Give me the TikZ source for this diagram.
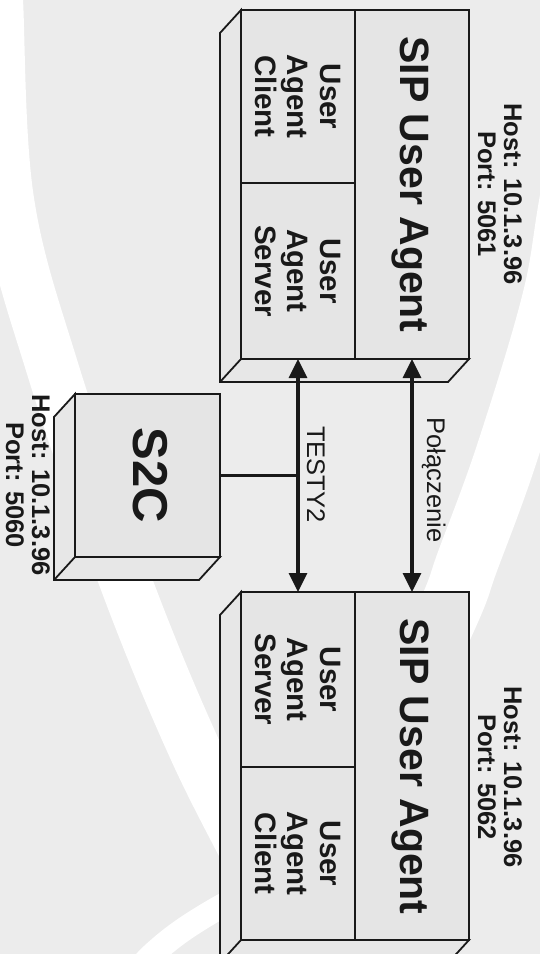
\documentclass[tikz,border=0pt]{standalone}
\usepackage{fontspec}
\setmainfont{Liberation Sans}
\usetikzlibrary{arrows.meta}
\definecolor{bg}{RGB}{236,236,236}
\definecolor{facefill}{RGB}{229,229,229}
\definecolor{sidefill}{RGB}{231,231,231}
\definecolor{ink}{RGB}{25,25,25}
\begin{document}
\begin{tikzpicture}[x=1pt,y=-1pt,
  facebox/.style={draw=ink, fill=facefill, line width=1.8pt, inner sep=0pt, outer sep=0pt, anchor=north west},
  sidebox/.style={draw=ink, fill=sidefill, line width=1.8pt, line join=miter},
  edgeline/.style={draw=ink, line width=1.8pt},
  title/.style={rotate=-90, anchor=base, text=ink, font=\fontsize{41}{41}\selectfont\bfseries},
  parttext/.style={rotate=-90, align=center, text=ink, font=\fontsize{29.5}{32.5}\selectfont\bfseries},
  hosttext/.style={rotate=-90, align=center, text=ink, inner sep=1pt, font=\fontsize{25.5}{26}\selectfont\bfseries},
  linktext/.style={rotate=-90, anchor=base, text=ink, font=\fontsize{25.5}{25.5}\selectfont},
  link/.style={draw=ink, line width=3.2pt, {Triangle[length=19pt,width=18pt]}-{Triangle[length=19pt,width=18pt]}},
  tie/.style={draw=ink, line width=3.2pt},
  band/.style={draw=white, line cap=butt}
]
\useasboundingbox (0,0) rectangle (540,954);
\fill[bg] (0,0) rectangle (540,954);
\begin{scope}
  \clip (0,0) rectangle (540,954);
  \draw[band, line width=52pt] plot[smooth, tension=0.6] coordinates {(-5,-40) (-3,0) (8,200) (53,370) (125,580) (195,750) (270,900) (310,1000)};
  \draw[band, line width=62pt] plot[smooth, tension=0.6] coordinates {(615,-20) (573,187) (553,300) (507,453) (468,560) (445,620) (360,800) (280,960)};
  \draw[band, line width=24pt] plot[smooth, tension=0.6] coordinates {(115,1000) (153,954) (213,911) (330,850)};
\end{scope}

% ---------- upper SIP User Agent (5061)
\node[facebox, minimum width=114pt, minimum height=173pt] (uac1) at (241,10) {};
\node[facebox, minimum width=114pt, minimum height=176pt] (uas1) at (241,183) {};
\node[facebox, minimum width=114pt, minimum height=349pt] (sip1) at (355,10) {};
\path[sidebox] (uac1.north west) -- ++(-21,23) -- ([shift={(-21,23)}]uas1.south west) -- ([shift={(-21,23)}]sip1.south east) -- (sip1.south east) -- (uas1.south west) -- cycle;
\draw[edgeline] (uas1.south west) -- ++(-21,23);
\node[facebox, minimum width=114pt, minimum height=173pt] at (241,10) {};
\node[facebox, minimum width=114pt, minimum height=176pt] at (241,183) {};
\node[facebox, minimum width=114pt, minimum height=349pt] at (355,10) {};
\node[title] (sipt1) at (400,184.5) {SIP User Agent};
\node[parttext] (uact1) at (uac1.center) {User\\Agent\\Client};
\node[parttext] (uast1) at (uas1.center) {User\\Agent\\Server};
\node[hosttext] (host1) at (500,194) {Host: 10.1.3.96\\Port: 5061};

% ---------- lower SIP User Agent (5062)
\node[facebox, minimum width=114pt, minimum height=175pt] (uas2) at (241,592) {};
\node[facebox, minimum width=114pt, minimum height=173pt] (uac2) at (241,767) {};
\node[facebox, minimum width=114pt, minimum height=348pt] (sip2) at (355,592) {};
\path[sidebox] (uas2.north west) -- ++(-21,23) -- ([shift={(-21,23)}]uac2.south west) -- ([shift={(-21,23)}]sip2.south east) -- (sip2.south east) -- (uac2.south west) -- cycle;
\draw[edgeline] (uac2.south west) -- ++(-21,23);
\node[facebox, minimum width=114pt, minimum height=175pt] at (241,592) {};
\node[facebox, minimum width=114pt, minimum height=173pt] at (241,767) {};
\node[facebox, minimum width=114pt, minimum height=348pt] at (355,592) {};
\node[title] (sipt2) at (400,766.5) {SIP User Agent};
\node[parttext] (uast2) at (uas2.center) {User\\Agent\\Server};
\node[parttext] (uact2) at (uac2.center) {User\\Agent\\Client};
\node[hosttext] (host2) at (500,777) {Host: 10.1.3.96\\Port: 5062};

% ---------- S2C
\node[facebox, minimum width=145pt, minimum height=163pt] (s2c) at (75,394) {};
\path[sidebox] (s2c.north west) -- ++(-21,23) -- ([shift={(-21,23)}]s2c.south west) -- ([shift={(-21,23)}]s2c.south east) -- (s2c.south east) -- (s2c.south west) -- cycle;
\draw[edgeline] (s2c.south west) -- ++(-21,23);
\node[facebox, minimum width=145pt, minimum height=163pt] at (75,394) {};
\node[rotate=-90, anchor=base, text=ink, font=\fontsize{49}{49}\selectfont\bfseries] (s2ct) at (133,475.5) {S2C};
\node[hosttext] (host3) at (28,485) {Host: 10.1.3.96\\Port: 5060};

% ---------- connectors
\draw[link] (sip1.south) -- (sip2.north);
\draw[link] (uas1.south) -- (uas2.north);
\coordinate (tj) at (s2c.east -| uas1.south);
\draw[tie] (s2c.east) -- (tj);
\node[linktext] (l1) at (427,480) {Połączenie};
\node[linktext] (l2) at (307,474.5) {TESTY2};
\end{tikzpicture}
\end{document}
